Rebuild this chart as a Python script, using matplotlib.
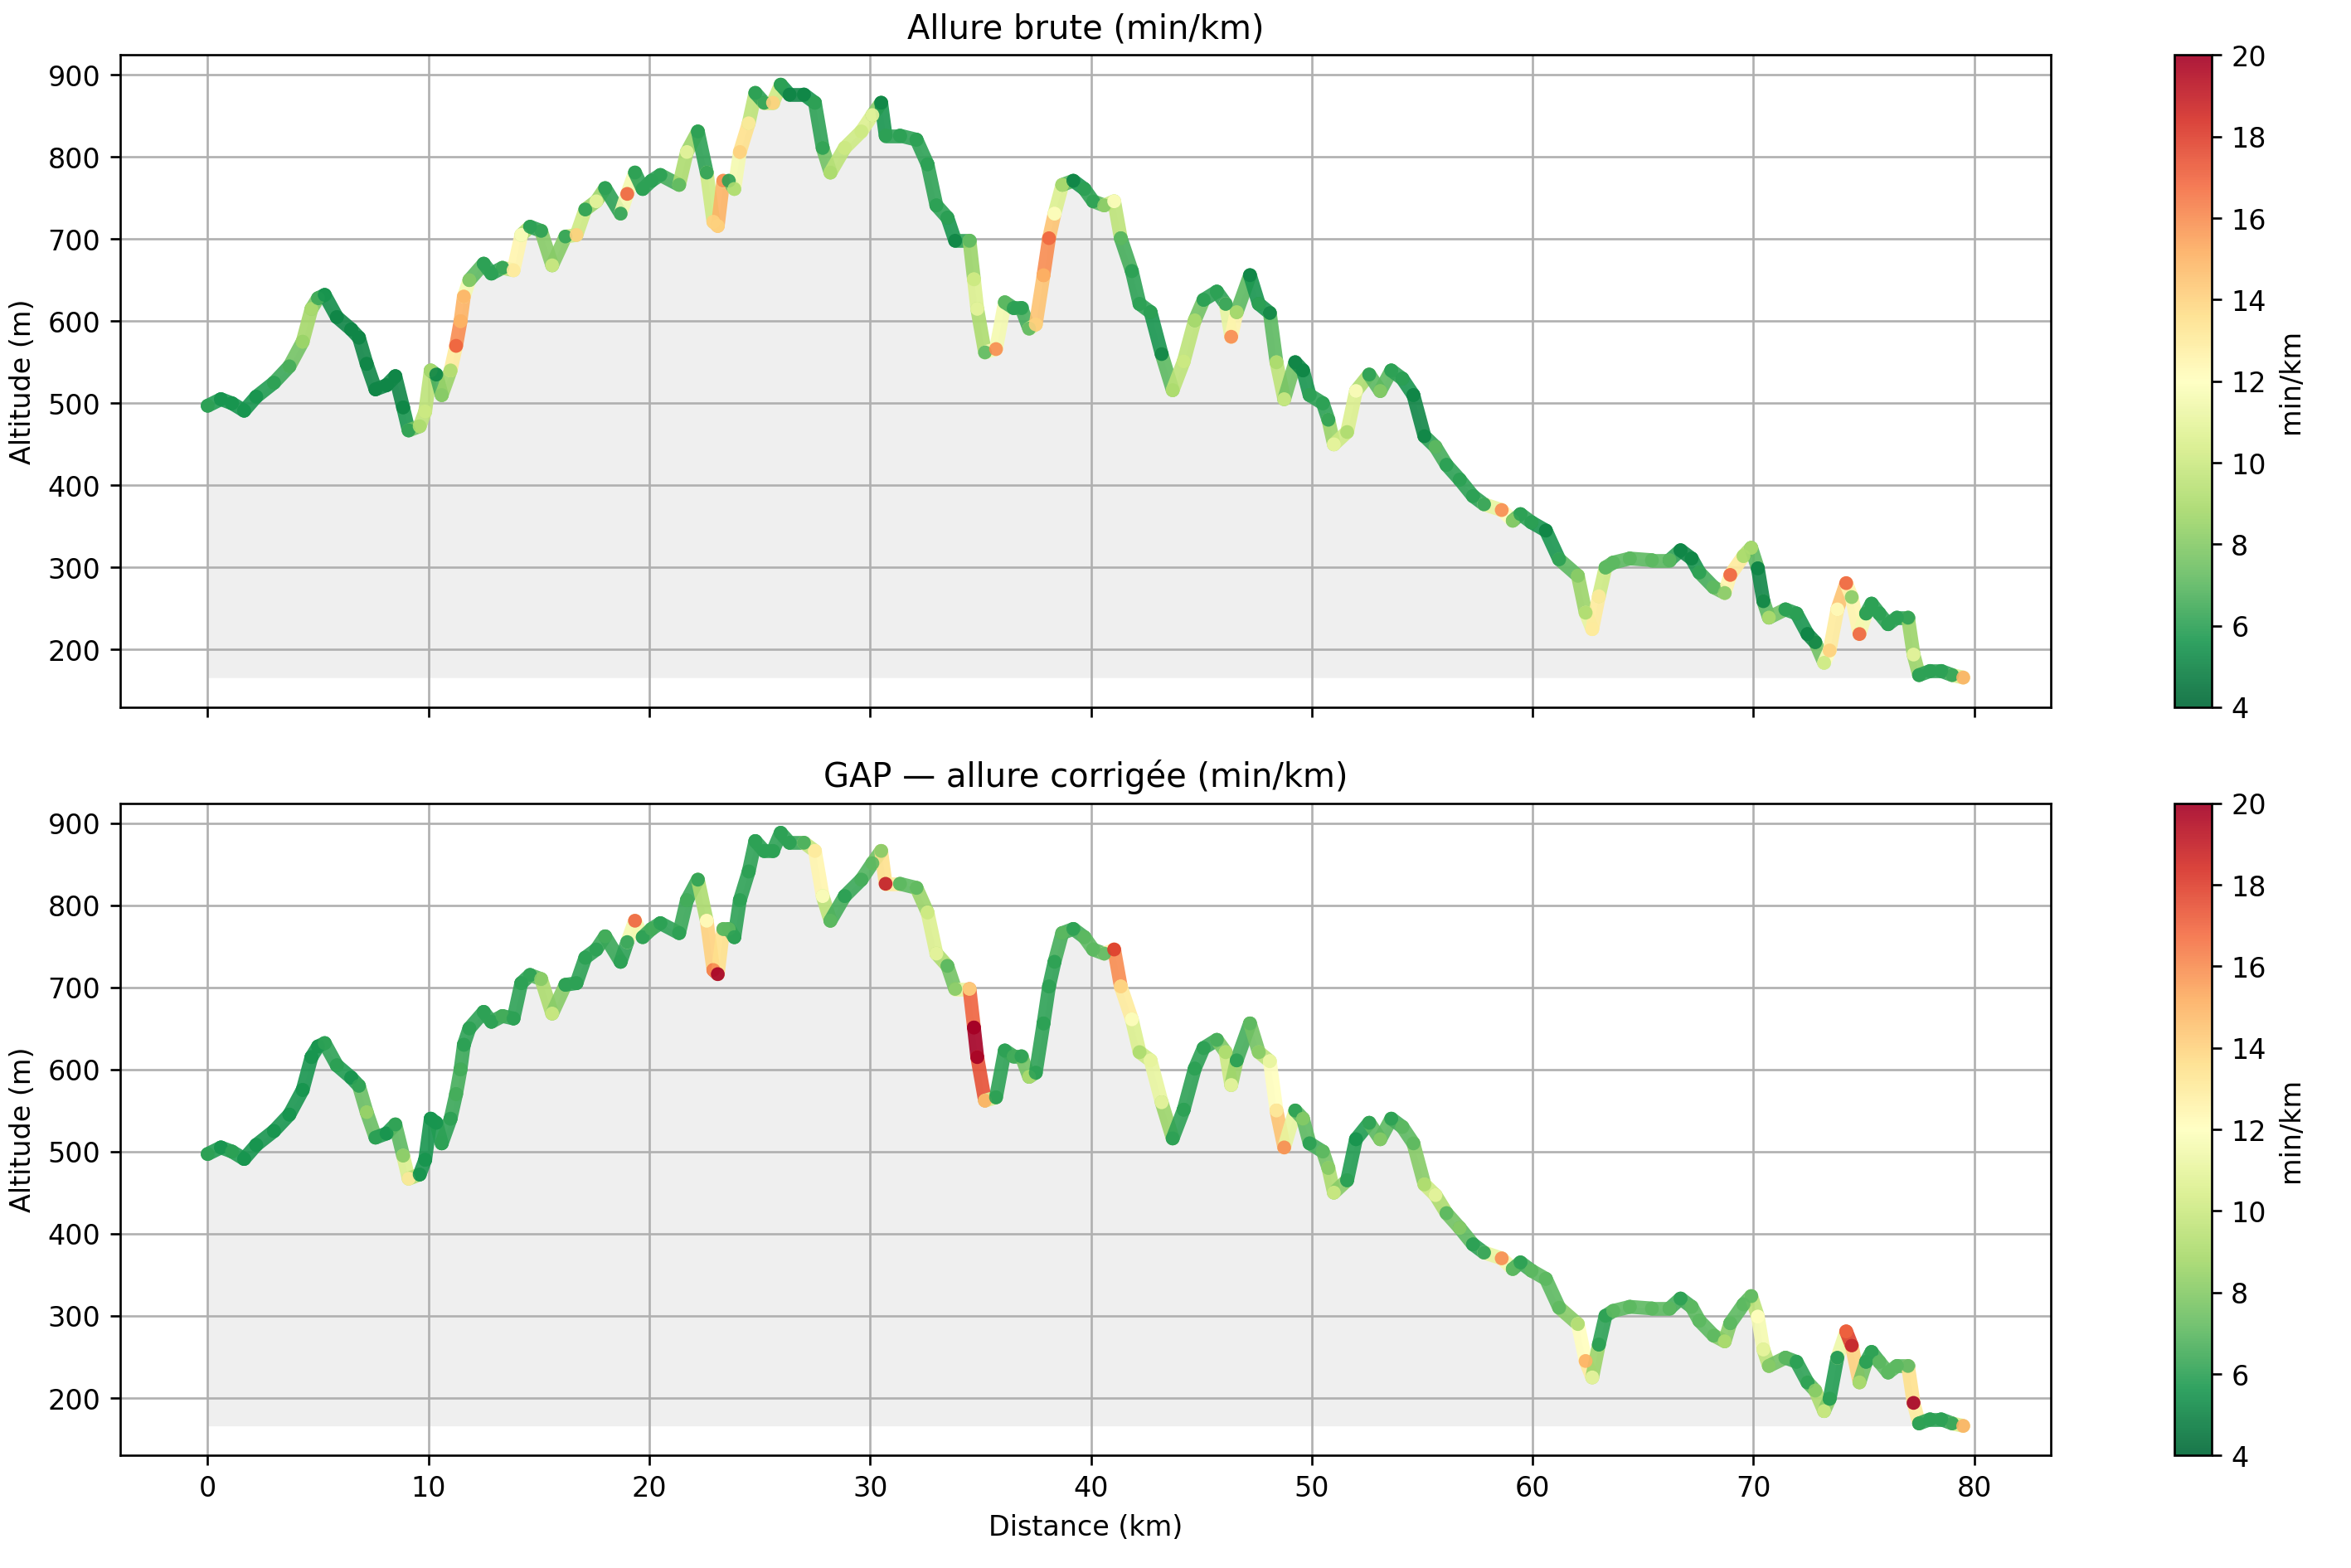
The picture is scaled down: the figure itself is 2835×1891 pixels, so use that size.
import numpy as np
import matplotlib
matplotlib.use("Agg")
import matplotlib.pyplot as plt
from matplotlib.collections import LineCollection
from matplotlib.colors import Normalize

# ---- data ----
distance_km = [0.0, 0.6, 1.1, 1.65, 2.2, 3.0, 3.7, 4.3, 4.7, 5.0, 5.3, 5.85, 6.5, 6.85, 7.2, 7.6,
               8.1, 8.5, 8.85, 9.1, 9.6, 9.85, 10.1, 10.35, 10.6, 11.0, 11.25, 11.45, 11.6, 11.85,
               12.5, 12.85, 13.35, 13.85, 14.2, 14.6, 15.1, 15.6, 16.2, 16.7, 17.1, 17.6, 18.0,
               18.7, 19.0, 19.35, 19.7, 20.1, 20.5, 21.35, 21.7, 22.2, 22.6, 22.9, 23.1, 23.35,
               23.6, 23.85, 24.1, 24.5, 24.8, 25.2, 25.6, 25.95, 26.35, 27.0, 27.5, 27.85, 28.2,
               28.85, 29.6, 30.1, 30.5, 30.7, 31.35, 32.1, 32.6, 33.0, 33.5, 33.85, 34.5, 34.7,
               34.85, 35.2, 35.7, 36.1, 36.5, 36.85, 37.2, 37.5, 37.85, 38.1, 38.35, 38.7, 39.2,
               39.7, 40.1, 40.6, 41.05, 41.35, 41.85, 42.2, 42.7, 43.2, 43.7, 44.2, 44.7, 45.1,
               45.7, 46.1, 46.35, 46.6, 47.2, 47.6, 48.1, 48.4, 48.75, 49.25, 49.6, 49.9, 50.5,
               50.75, 51.0, 51.6, 52.0, 52.6, 53.1, 53.6, 54.1, 54.6, 55.1, 55.6, 56.1, 56.7,
               57.3, 57.8, 58.6, 59.1, 59.45, 59.95, 60.6, 61.2, 62.05, 62.4, 62.7, 63.0, 63.3,
               63.65, 64.4, 65.4, 66.2, 66.7, 67.2, 67.55, 68.2, 68.7, 68.95, 69.55, 69.9, 70.2,
               70.45, 70.7, 71.45, 71.95, 72.45, 72.8, 73.2, 73.45, 73.8, 74.2, 74.45, 74.8, 75.1,
               75.35, 75.7, 76.1, 76.5, 77.0, 77.25, 77.5, 78.0, 78.5, 79.0, 79.5]

altitude_m = [497, 505, 500, 491, 508, 525, 545, 575, 615, 628, 632, 605, 590, 580, 548, 517,
              522, 533, 495, 467, 472, 490, 540, 535, 510, 540, 570, 600, 630, 650,
              670, 658, 665, 662, 705, 715, 710, 668, 703, 705, 736, 746, 762,
              731, 755, 781, 761, 771, 778, 766, 806, 831, 781, 721, 716, 771,
              771, 761, 806, 841, 878, 866, 866, 888, 876, 876, 866, 811, 781,
              811, 831, 851, 866, 826, 826, 821, 791, 741, 726, 698, 698, 651,
              615, 562, 566, 623, 616, 616, 591, 596, 656, 701, 731, 766, 771,
              761, 746, 741, 746, 701, 661, 621, 611, 560, 516, 551, 601, 626,
              636, 621, 581, 611, 656, 621, 610, 550, 505, 550, 540, 510, 500,
              480, 450, 465, 515, 535, 515, 540, 530, 510, 460, 447, 425, 407,
              387, 377, 370, 357, 365, 355, 345, 310, 290, 245, 225, 265, 300,
              306, 311, 309, 309, 321, 311, 294, 276, 269, 291, 314, 324, 299,
              259, 239, 249, 244, 219, 209, 184, 199, 249, 281, 264, 219, 244,
              256, 244, 231, 239, 239, 194, 169, 174, 174, 169, 166]

pace_raw = [6, 5.5, 5.5, 5.5, 5.5, 6, 6.5, 8.5, 9, 6.5, 5.5, 5, 5, 5, 5, 5,
            5, 5, 5, 6, 9, 10, 9, 5, 8, 9, 17, 15, 15, 8,
            6, 6, 6, 13, 12, 6, 6, 10, 6, 14, 6, 11, 6,
            6, 17, 6, 6, 6, 6, 7, 11, 6, 6, 14, 14, 16,
            6, 9, 14, 13, 6, 6, 14, 6, 5, 5, 6, 6, 9,
            10, 10, 11, 5, 6, 6, 6, 6, 6, 6, 5, 7, 10,
            11, 7, 16, 7, 6, 6, 7, 14, 15, 17, 12, 9, 5,
            6, 6, 8, 12, 7, 6, 6, 6, 5, 9, 10, 9, 6,
            6, 6, 16, 9, 5, 6, 5, 9, 10, 5, 5, 6, 6,
            6, 11, 9, 12, 6, 8, 6, 6, 5, 5, 7, 6, 6,
            6, 6, 16, 8, 6, 6, 5, 6, 8, 9, 13, 13, 7,
            7, 7, 7, 7, 5, 5, 6, 7, 8, 17, 9, 9, 5,
            5, 9, 6, 6, 5, 5, 10, 14, 12, 17, 8, 17, 6,
            6, 6, 6, 6, 6, 11, 6, 6, 6, 6, 15]

pace_gap = [6, 5.5, 6, 5.5, 5.5, 5.5, 5.5, 5.5, 5.5, 5.5, 6, 6, 5.5, 6, 8.5, 6,
            5.5, 6, 8, 13, 5.5, 5.5, 5.5, 5.5, 6, 6, 6.5, 6.5, 6, 6,
            6, 6, 6.5, 6, 6, 6, 8, 10, 6, 6, 6, 6, 6.5,
            6, 6, 17, 6, 6.5, 6, 6, 6.5, 6, 12, 16, 20, 7,
            7, 6, 6, 6, 6, 6, 6, 6, 6, 6.5, 13, 12, 7,
            6, 6.5, 7, 8, 19, 7, 7, 10, 11, 7, 8, 14, 20,
            20, 15, 6, 6, 6.5, 6, 9, 6, 6, 6, 6, 7, 6,
            7, 7, 7, 18, 14, 12, 9, 11, 11, 6, 6, 6, 6,
            6.5, 9, 11, 6, 7, 8, 11, 13, 16, 6, 8, 6, 7,
            8, 10, 6, 5.5, 6, 8, 6, 7, 7, 9, 11, 7, 8,
            6, 6, 16, 7, 6, 7, 7, 7, 9, 15, 11, 6, 6,
            7, 7, 7, 7, 6, 7, 7, 7, 9, 7, 7, 7, 12,
            11, 8, 7, 6, 6, 8, 10, 6, 5.5, 17, 19, 9, 6,
            6, 7, 7, 7, 7, 20, 6, 6, 6, 6, 15]

titles = ["Allure brute (min/km)", "GAP \u2014 allure corrig\u00e9e (min/km)"]
paces = [pace_raw, pace_gap]

dist = np.array(distance_km, dtype=float)
alt = np.array(altitude_m, dtype=float)

DPI = 240
fig = plt.figure(figsize=(2835 / DPI, 1891.6 / DPI), dpi=DPI)
ax_pos = [[0.051, 0.5488, 0.8214, 0.4158], [0.051, 0.0717, 0.8214, 0.4159]]
cb_pos = [[0.9247, 0.5488, 0.016, 0.4158], [0.9247, 0.0717, 0.016, 0.4159]]

cmap = plt.get_cmap("RdYlGn_r")
norm = Normalize(vmin=4, vmax=20)
LW = 5.0

axes = []
for i in range(2):
    ax = fig.add_axes(ax_pos[i], sharex=axes[0] if axes else None)
    axes.append(ax)
    base = alt.min()
    ax.fill_between(dist, alt, base, color="#efefef", linewidth=0)
    pts = np.column_stack([dist, alt]).reshape(-1, 1, 2)
    segs = np.concatenate([pts[:-1], pts[1:]], axis=1)
    p = np.array(paces[i], dtype=float)
    segvals = (p[:-1] + p[1:]) / 2.0
    lc = LineCollection(segs, cmap=cmap, norm=norm, linewidths=LW,
                        capstyle="round", joinstyle="round", alpha=0.9, zorder=3)
    lc.set_array(segvals)
    ax.add_collection(lc)
    ax.scatter(dist, alt, c=p, cmap=cmap, norm=norm, s=LW ** 2, alpha=0.9, zorder=4,
               linewidths=0)
    ax.autoscale_view()
    ax.set_title(titles[i], fontsize=12)
    ax.set_ylabel("Altitude (m)")
    ax.grid(True)
    cax = fig.add_axes(cb_pos[i])
    cb = fig.colorbar(lc, cax=cax, alpha=0.8)
    cb.set_label("min/km")

axes[0].tick_params(labelbottom=False)
axes[1].set_xlabel("Distance (km)")
axes[0].set_xticks(range(0, 81, 10))

fig.savefig("out.png", dpi=DPI)
